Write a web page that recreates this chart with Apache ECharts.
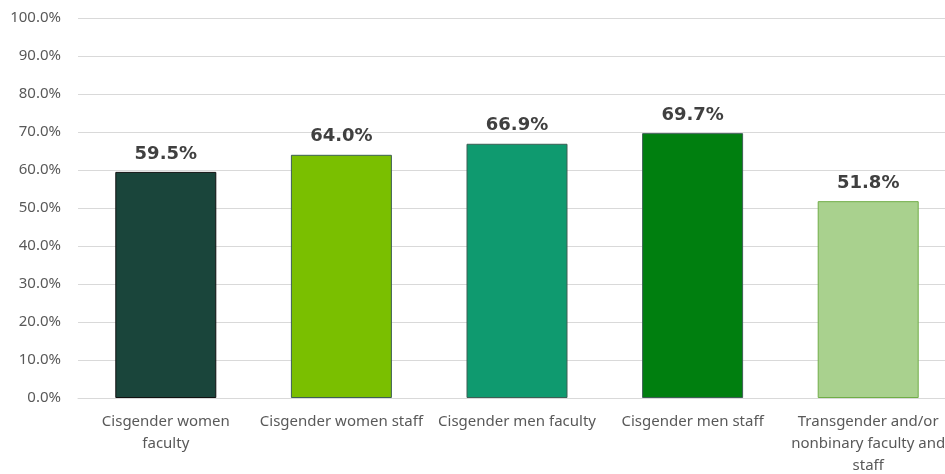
<!DOCTYPE html>
<html>
<head>
<meta charset="utf-8">
<script src="https://cdn.jsdelivr.net/npm/echarts@6/dist/echarts.min.js"></script>
<style>html,body{margin:0;padding:0;background:#fff;overflow:hidden;}#c{width:945px;height:474px;}</style>
</head>
<body>
<div id="c"></div>
<script>
const categories = [
  "Cisgender women\nfaculty",
  "Cisgender women staff",
  "Cisgender men faculty",
  "Cisgender men staff",
  "Transgender and/or\nnonbinary faculty and\nstaff"
];
const values = [59.5, 64.0, 66.9, 69.7, 51.8];
const barColors = ["#1a453b", "#7abf00", "#0f9a6f", "#007f0f", "#a9d18e"];
const borderColors = ["#111111", "#3d5f55", "#3d5f55", "#3d5f55", "#70ad47"];
const yTicks = { min: 0, max: 100, interval: 10 };

const chart = echarts.init(document.getElementById('c'), null, { renderer: 'canvas' });
chart.setOption({
  animation: false,
  backgroundColor: '#ffffff',
  grid: { left: 78, top: 18, width: 878, height: 380, containLabel: false, outerBoundsMode: 'none' },
  xAxis: {
    type: 'category',
    data: categories,
    axisLine: { show: true, lineStyle: { color: '#d9d9d9', width: 1 } },
    axisTick: { show: false },
    axisLabel: {
      interval: 0,
      color: '#595959',
      fontFamily: 'Noto Sans',
      fontSize: 15,
      lineHeight: 22,
      margin: 13,
      hideOverlap: false
    }
  },
  yAxis: {
    type: 'value',
    min: yTicks.min,
    max: yTicks.max,
    interval: yTicks.interval,
    axisLine: { show: false },
    axisTick: { show: false },
    splitLine: { lineStyle: { color: '#d9d9d9', width: 1 } },
    axisLabel: {
      color: '#595959',
      fontFamily: 'Noto Sans',
      fontSize: 15,
      margin: 17,
      formatter: v => v.toFixed(1) + '%'
    }
  },
  series: [{
    type: 'bar',
    barWidth: 101,
    data: values.map((v, i) => ({
      value: v,
      itemStyle: { color: barColors[i], borderColor: borderColors[i], borderWidth: 1 }
    })),
    label: {
      show: true,
      position: 'top',
      distance: 9,
      color: '#404040',
      fontFamily: 'DejaVu Sans',
      fontWeight: 'bold',
      fontSize: 18,
      formatter: p => p.value.toFixed(1) + '%'
    }
  }]
});
</script>
</body>
</html>
